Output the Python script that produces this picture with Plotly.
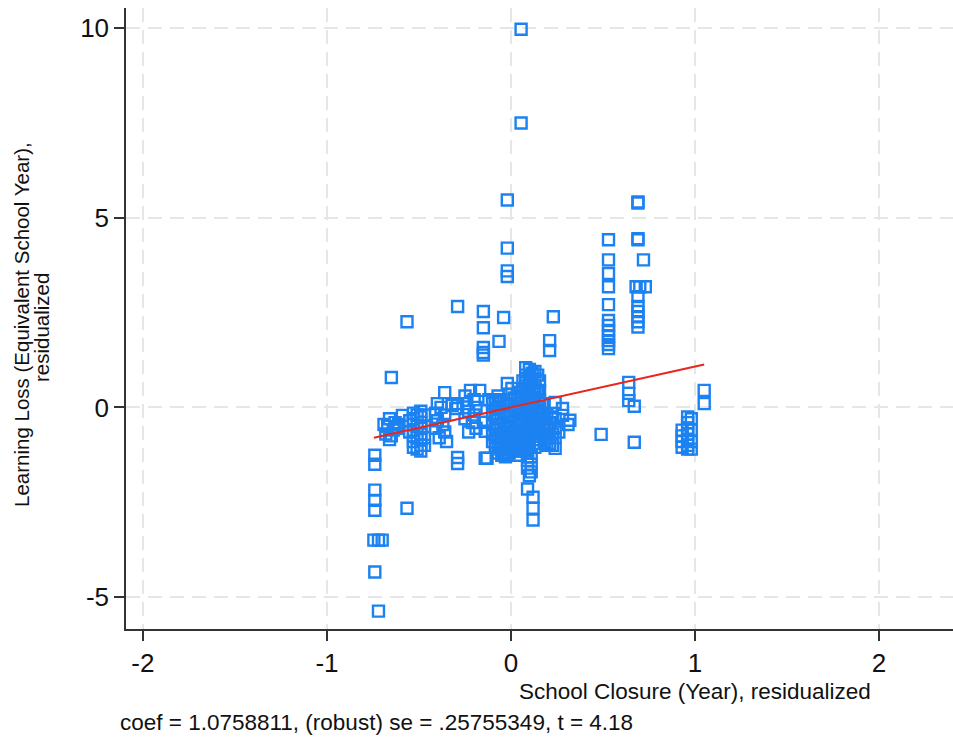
import plotly.graph_objects as go

# ---- data ----
x_vals = [
    # far-left column
    -0.74, -0.74, -0.74, -0.74, -0.74, -0.745, -0.72, -0.70, -0.74, -0.72,
    # scattered left
    -0.565, -0.65, -0.565, -0.59,
    # cluster ~ -0.65
    -0.69, -0.67, -0.66, -0.64, -0.68, -0.65, -0.62, -0.63, -0.66, -0.61,
    # cluster ~ -0.5
    -0.53, -0.53, -0.53, -0.53, -0.53, -0.53, -0.53,
    -0.49, -0.49, -0.49, -0.49, -0.49, -0.49, -0.49, -0.49,
    -0.47, -0.47, -0.47, -0.47,
    -0.51, -0.51, -0.51, -0.51, -0.55, -0.55,
    # cluster ~ -0.38
    -0.40, -0.38, -0.41, -0.36, -0.40, -0.37, -0.41, -0.36, -0.39, -0.35,
    -0.36, -0.30, -0.29, -0.32, -0.29, -0.29,
    # cluster ~ -0.22
    -0.22, -0.25, -0.20, -0.24, -0.19, -0.23, -0.20, -0.25, -0.21, -0.19, -0.23,
    -0.17, -0.14, -0.14, -0.14, -0.12, -0.10, -0.02,
    # central blob
    -0.10, -0.10, -0.10, -0.10, -0.10,
    -0.07, -0.07, -0.07, -0.07, -0.07, -0.07, -0.07,
    -0.04, -0.04, -0.04, -0.04, -0.04, -0.04, -0.04,
    -0.01, -0.01, -0.01, -0.01, -0.01, -0.01, -0.01,
    0.02, 0.02, 0.02, 0.02, 0.02, 0.02,
    0.05, 0.05, 0.05, 0.05, 0.05, 0.05, 0.05,
    0.08, 0.08, 0.08, 0.08, 0.08, 0.08, 0.08, 0.08, 0.08, 0.08, 0.08, 0.08,
    0.10, 0.10, 0.10, 0.10, 0.10, 0.10, 0.10, 0.10, 0.10, 0.10, 0.10,
    0.13, 0.13, 0.13, 0.13, 0.13, 0.13, 0.13, 0.13, 0.13, 0.13, 0.13,
    0.155, 0.155, 0.155, 0.155, 0.155, 0.155, 0.155,
    0.18, 0.18, 0.18, 0.18,
    0.21, 0.21, 0.21,
    0.24, 0.24, 0.24, 0.24,
    -0.085, -0.085, -0.085, -0.085, -0.085, -0.085,
    -0.055, -0.055, -0.055, -0.055, -0.055, -0.055,
    -0.025, -0.025, -0.025, -0.025, -0.025,
    0.005, 0.005, 0.005, 0.005, 0.005, 0.005, 0.005,
    0.035, 0.035, 0.035, 0.035, 0.035, 0.035,
    0.065, 0.065, 0.065, 0.065, 0.065, 0.065, 0.065, 0.065,
    0.115, 0.115, 0.115, 0.115, 0.115,
    0.145, 0.145, 0.145, 0.145, 0.145,
    0.17, 0.17, 0.17,
    0.195, 0.195, 0.195, 0.195,
    0.225, 0.225, 0.225,
    0.24, 0.28, 0.28, 0.32, 0.31, 0.26,
    # below blob
    -0.13, -0.05, -0.03, -0.02, 0.04,
    0.09, 0.11, 0.09, 0.11, 0.09, 0.11, 0.10,
    0.09, 0.12, 0.12, 0.12,
    # upper scattered
    -0.29, -0.15, -0.04, -0.15, -0.065, -0.15, -0.15, -0.15,
    0.23, 0.21, 0.21,
    -0.02, -0.02, -0.02, -0.02,
    0.055, 0.055,
    # column ~0.53
    0.53, 0.53, 0.53, 0.53, 0.53, 0.53, 0.53, 0.53, 0.53, 0.53, 0.53, 0.53,
    # column ~0.69
    0.69, 0.69, 0.69, 0.69, 0.72, 0.68, 0.70, 0.73, 0.69, 0.69, 0.69, 0.69, 0.69, 0.69,
    # right cluster
    0.64, 0.64, 0.64, 0.67, 0.49, 0.67, 1.05, 1.05,
    0.93, 0.93, 0.93, 0.93,
    0.96, 0.96, 0.96, 0.96, 0.96, 0.96, 0.96,
    0.98, 0.98, 0.98, 0.98,
]
y_vals = [
    -1.26, -1.50, -2.18, -2.45, -2.71, -3.50, -3.50, -3.50, -4.34, -5.37,
    -2.66, 0.79, 2.26, -0.21,
    -0.45, -0.50, -0.30, -0.60, -0.70, -0.75, -0.55, -0.40, -0.85, -0.45,
    -0.15, -0.30, -0.45, -0.60, -0.75, -0.90, -1.05,
    -0.10, -0.25, -0.40, -0.55, -0.70, -0.85, -1.00, -1.15,
    -0.20, -0.50, -0.80, -1.00,
    -0.20, -0.50, -0.80, -1.10, -0.35, -0.65,
    0.10, 0.00, -0.15, -0.20, -0.35, -0.45, -0.55, -0.65, -0.80, -0.90,
    0.39, -0.03, 0.10, 0.05, -1.32, -1.48,
    0.45, 0.30, 0.20, 0.10, 0.00, -0.10, -0.20, -0.30, -0.40, -0.55, -0.65,
    0.45, -1.34, -0.39, -0.63, 0.20, 0.17, 0.63,
    0.10, -0.20, -0.45, -0.70, -0.90,
    0.30, 0.00, -0.30, -0.55, -0.80, -1.00, -1.20,
    0.20, -0.10, -0.40, -0.65, -0.90, -1.10, -1.25,
    0.35, 0.05, -0.25, -0.50, -0.75, -1.00, -1.20,
    0.25, -0.05, -0.35, -0.60, -0.85, -1.10,
    0.40, 0.10, -0.20, -0.45, -0.70, -0.95, -1.15,
    1.05, 0.85, 0.65, 0.45, 0.25, 0.05, -0.15, -0.35, -0.55, -0.75, -0.95, -1.15,
    1.00, 0.80, 0.60, 0.40, 0.20, 0.00, -0.20, -0.40, -0.60, -0.80, -1.00,
    0.95, 0.75, 0.55, 0.35, 0.15, -0.05, -0.25, -0.45, -0.65, -0.85, -1.05,
    0.70, 0.45, 0.20, -0.10, -0.35, -0.60, -0.85,
    -0.30, -0.50, -0.70, -0.90,
    -0.40, -0.60, -0.95,
    -0.30, -0.55, -0.80, -1.08,
    0.20, -0.05, -0.30, -0.60, -0.80, -1.05,
    0.15, -0.15, -0.45, -0.70, -0.95, -1.10,
    0.10, -0.20, -0.55, -0.85, -1.10,
    0.50, 0.20, -0.10, -0.40, -0.65, -0.95, -1.15,
    0.30, 0.00, -0.30, -0.60, -0.80, -1.05,
    0.70, 0.50, 0.20, -0.10, -0.40, -0.65, -0.85, -1.05,
    0.90, 0.50, 0.10, -0.30, -0.70,
    0.85, 0.40, 0.00, -0.50, -0.95,
    0.10, -0.15, -0.60,
    -0.20, -0.45, -0.80, -1.00,
    -0.25, -0.70, -1.00,
    0.13, -0.03, -0.21, -0.34, -0.45, -0.65,
    -1.34, -1.26, -1.30, -1.20, -1.26,
    -1.20, -1.30, -1.40, -1.50, -1.60, -1.70, -1.80,
    -2.15, -2.37, -2.66, -2.97,
    2.66, 2.53, 2.37, 2.10, 1.74, 1.58, 1.45, 1.38,
    2.39, 1.76, 1.50,
    5.47, 4.20, 3.60, 3.45,
    9.97, 7.50,
    4.42, 3.89, 3.53, 3.18, 2.71, 2.29, 2.16, 2.03, 1.89, 1.76, 1.66, 1.55,
    5.39, 5.42, 4.45, 4.42, 3.89, 3.18, 3.18, 3.18, 2.92, 2.66, 2.53, 2.39, 2.26, 2.12,
    0.66, 0.37, 0.18, 0.03, -0.71, -0.92, 0.45, 0.10,
    -0.60, -0.75, -0.90, -1.05,
    -0.25, -0.40, -0.55, -0.70, -0.85, -1.00, -1.10,
    -0.30, -0.60, -0.90, -1.10,
]

coef = 1.0758811
intercept = 0.0

x_ticks = [-2, -1, 0, 1, 2]
y_ticks = [-5, 0, 5, 10]

x_title = "School Closure (Year), residualized"
y_title_lines = ["Learning Loss (Equivalent School Year),", "residualized"]
note = "coef = 1.0758811, (robust) se = .25755349, t = 4.18"

# ---- figure ----
W, H = 953, 742
ML, MR, MT, MB = 126, 0, 8, 113
FONT = "Liberation Sans, Arial, sans-serif"

x_lo, x_hi = min(x_vals), max(x_vals)
fit_x = [x_lo, x_hi]
fit_y = [intercept + coef * v for v in fit_x]

fig = go.Figure()
fig.add_trace(go.Scatter(
    x=x_vals, y=y_vals, mode="markers",
    marker=dict(symbol="square-open", size=11, color="#1c82f2",
                line=dict(width=2.4, color="#1c82f2")),
    showlegend=False, hoverinfo="x+y",
))
fig.add_trace(go.Scatter(
    x=fit_x, y=fit_y, mode="lines",
    line=dict(color="#e8261e", width=2),
    showlegend=False,
))

tick_font = dict(family=FONT, size=26, color="#111")
axis_common = dict(
    showline=True, linecolor="#333", linewidth=1.5,
    ticks="outside", ticklen=10, tickwidth=1.5, tickcolor="#333",
    showgrid=True, gridcolor="#e6e6e6", gridwidth=1.5, griddash="14px,8px",
    zeroline=False, tickfont=tick_font,
)

fig.update_layout(
    width=W, height=H,
    margin=dict(l=ML, r=MR, t=MT, b=MB, autoexpand=False),
    paper_bgcolor="white", plot_bgcolor="white",
    xaxis=dict(range=[-2.092, 2.402], tickvals=x_ticks,
               ticktext=[str(v) for v in x_ticks], **axis_common),
    yaxis=dict(range=[-5.842, 10.53], tickvals=y_ticks,
               ticktext=[str(v) for v in y_ticks], **axis_common),
    font=dict(family=FONT, color="#111"),
)

plot_w = W - ML - MR
plot_h = H - MT - MB

fig.add_annotation(
    text=x_title, xref="paper", yref="paper",
    x=(695 - ML) / plot_w, y=-(691 - (H - MB)) / plot_h,
    xanchor="center", yanchor="middle", showarrow=False,
    font=dict(size=22.5),
)
for line_text, px_x, px_y in zip(y_title_lines, [21, 41], [325, 328]):
    fig.add_annotation(
        text=line_text, xref="paper", yref="paper",
        x=-(ML - px_x) / plot_w, y=((H - MB) - px_y) / plot_h,
        xanchor="center", yanchor="middle", showarrow=False, textangle=-90,
        font=dict(size=20.5),
    )
fig.add_annotation(
    text=note, xref="paper", yref="paper",
    x=-(ML - 118) / plot_w, y=-(722 - (H - MB)) / plot_h,
    xanchor="left", yanchor="middle", showarrow=False,
    font=dict(size=22.5),
)

fig.write_html("out.html", config={"displayModeBar": False},
               post_script="document.body.style.margin='0px';")
